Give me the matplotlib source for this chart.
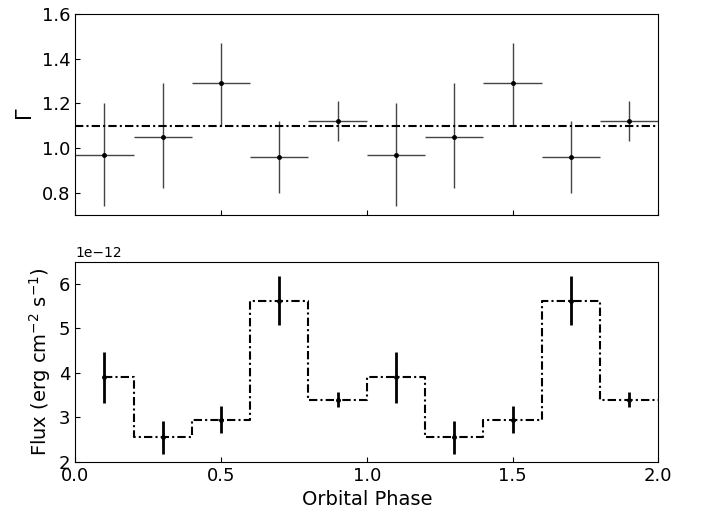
import numpy as np
import matplotlib.pyplot as plt

phase = np.array([0.1, 0.3, 0.5, 0.7, 0.9, 1.1, 1.3, 1.5, 1.7, 1.9])
gamma = np.array([0.97, 1.05, 1.29, 0.96, 1.12, 0.97, 1.05, 1.29, 0.96, 1.12])
gamma_lo = np.array([0.23, 0.23, 0.19, 0.16, 0.09, 0.23, 0.23, 0.19, 0.16, 0.09])
gamma_hi = np.array([0.23, 0.24, 0.18, 0.16, 0.09, 0.23, 0.24, 0.18, 0.16, 0.09])
gamma_mean = 1.1
flux = np.array([3.9, 2.55, 2.95, 5.62, 3.4, 3.9, 2.55, 2.95, 5.62, 3.4]) * 1e-12
flux_err = np.array([0.57, 0.37, 0.3, 0.55, 0.16, 0.57, 0.37, 0.3, 0.55, 0.16]) * 1e-12

fig = plt.figure(figsize=(7.04, 5.16), dpi=100)
ax1 = fig.add_axes([0.107, 0.583, 0.828, 0.39])
ax2 = fig.add_axes([0.107, 0.105, 0.828, 0.388])

ax1.errorbar(phase, gamma, xerr=0.1, yerr=[gamma_lo, gamma_hi], fmt='k.',
             ecolor='#444444', elinewidth=1, markersize=5, capsize=0)
ax1.axhline(gamma_mean, color='k', ls=(0, (4, 1.5, 1, 1.5)), lw=1.5)
ax1.set_xlim(0, 2)
ax1.set_ylim(0.7, 1.6)
ax1.set_xticks([0, 0.5, 1.0, 1.5, 2.0])
ax1.set_xticklabels([])
ax1.set_yticks([0.8, 1.0, 1.2, 1.4, 1.6])
ax1.set_ylabel(r'$\Gamma$', fontsize=15)

# step line: from first bin centre to the right edge
edges = phase[:-1] + 0.1
step_x = np.concatenate([[phase[0]], np.repeat(edges, 2), [2.0]])
step_y = np.repeat(flux, 2)
ax2.plot(step_x, step_y, color='k', ls=(0, (4, 1.5, 1, 1.5)), lw=1.5)
ax2.errorbar(phase, flux, yerr=flux_err, fmt='k.', elinewidth=2, markersize=5, capsize=0)
ax2.set_xlim(0, 2)
ax2.set_ylim(2e-12, 6.5e-12)
ax2.set_xticks([0, 0.5, 1.0, 1.5, 2.0])
ax2.set_yticks(np.arange(2, 7) * 1e-12)
ax2.set_xlabel('Orbital Phase', fontsize=14)
ax2.set_ylabel(r'Flux $(\mathrm{erg\ cm^{-2}\ s^{-1}})$', fontsize=14)

for ax in (ax1, ax2):
    ax.tick_params(labelsize=13, direction='in')

fig.savefig('out.png', dpi=100)
